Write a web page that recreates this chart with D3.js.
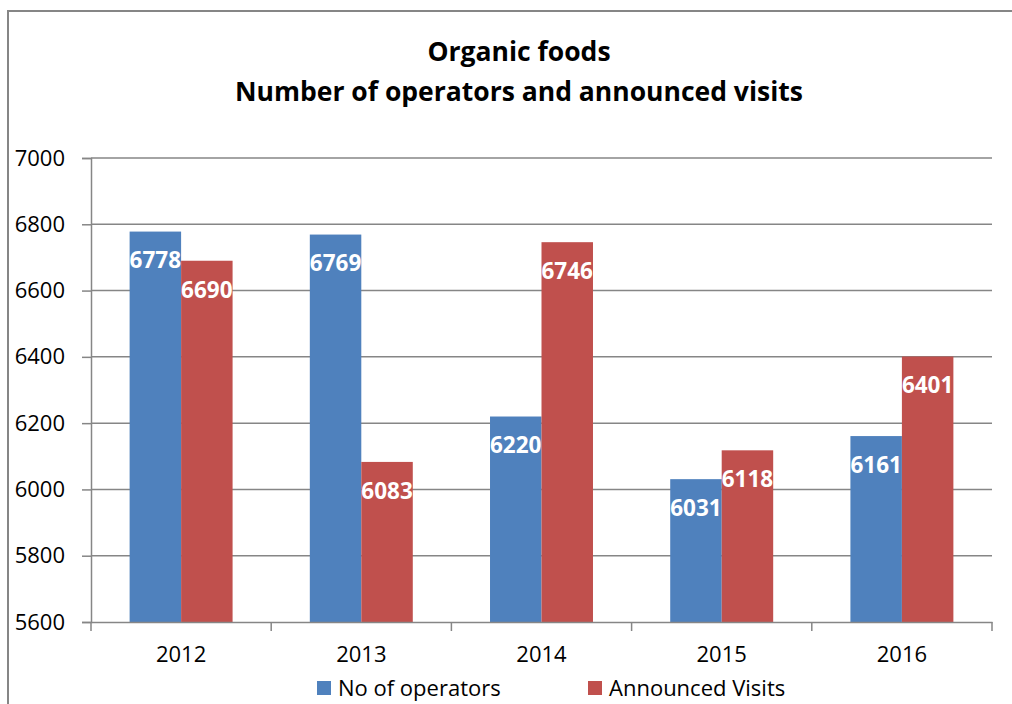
<!DOCTYPE html>
<html>
<head>
<meta charset="utf-8">
<script src="https://cdn.jsdelivr.net/npm/d3@7"></script>
<style>
  html, body { margin: 0; padding: 0; background: #fff; }
  svg { display: block; font-family: "Open Sans", sans-serif; }
</style>
</head>
<body>
<svg id="chart" width="1012" height="704"></svg>
<script>
// chart data
var years = ['2012', '2013', '2014', '2015', '2016'];
var seriesNames = ['No of operators', 'Announced Visits'];
var operators = [6778, 6769, 6220, 6031, 6161];
var visits = [6690, 6083, 6746, 6118, 6401];
var yTicks = [5600, 5800, 6000, 6200, 6400, 6600, 6800, 7000];
var titleLines = ['Organic foods', 'Number of operators and announced visits'];

var colors = ['#4f81bd', '#c0504d'];
var gridColor = '#868686';

var svg = d3.select('#chart');
var margins = { left: 91, right: 20, top: 158, bottom: 82 };
var W = 1012, H = 704;

// outer frame (runs off the right and bottom edges)
svg.append('rect')
  .attr('x', 8).attr('y', 11)
  .attr('width', 1100).attr('height', 800)
  .attr('fill', 'none')
  .attr('stroke', gridColor)
  .attr('stroke-width', 2);

// title
svg.append('g').selectAll('text').data(titleLines).enter()
  .append('text')
  .attr('x', 519)
  .attr('y', function(d, i) { return 61 + i * 40; })
  .attr('text-anchor', 'middle')
  .attr('font-size', 26.5)
  .attr('font-weight', 'bold')
  .attr('fill', '#000')
  .text(function(d) { return d; });

var xScale = d3.scaleBand()
  .domain(years)
  .range([margins.left, W - margins.right]);

var yScale = d3.scaleLinear()
  .domain([5600, 7000])
  .range([H - margins.bottom, margins.top]);

var bw = xScale.bandwidth();
var barW = bw / 3.5;
var x1 = d3.scaleBand()
  .domain(seriesNames)
  .range([0.75 * barW, 2.75 * barW]);

// gridlines
svg.append('g').selectAll('line').data(yTicks.slice(1)).enter()
  .append('line')
  .attr('x1', margins.left).attr('x2', W - margins.right)
  .attr('y1', function(d) { return yScale(d); })
  .attr('y2', function(d) { return yScale(d); })
  .attr('stroke', gridColor)
  .attr('stroke-width', 1.5);

// bars
var rows = years.map(function(y, i) {
  return { year: y, vals: [operators[i], visits[i]] };
});

var groups = svg.append('g').selectAll('g').data(rows).enter()
  .append('g')
  .attr('transform', function(d) { return 'translate(' + xScale(d.year) + ',0)'; });

var cells = groups.selectAll('g').data(function(d) {
  return d.vals.map(function(v, j) { return { name: seriesNames[j], val: v, j: j }; });
}).enter().append('g');

cells.append('rect')
  .attr('x', function(d) { return x1(d.name); })
  .attr('width', x1.bandwidth())
  .attr('y', function(d) { return yScale(d.val); })
  .attr('height', function(d) { return yScale(5600) - yScale(d.val); })
  .attr('fill', function(d) { return colors[d.j]; });

cells.append('text')
  .attr('x', function(d) { return x1(d.name) + x1.bandwidth() / 2; })
  .attr('y', function(d) { return yScale(d.val) + 29; })
  .attr('dy', '0.35em')
  .attr('text-anchor', 'middle')
  .attr('font-size', 22.5)
  .attr('font-weight', 'bold')
  .attr('fill', '#fff')
  .text(function(d) { return d.val; });

// y axis
var yAxis = svg.append('g')
  .attr('transform', 'translate(' + margins.left + ',0)')
  .call(d3.axisLeft(yScale).tickValues(yTicks).tickSize(9).tickPadding(17).tickFormat(d3.format('d')));
yAxis.selectAll('path, line').attr('stroke', gridColor).attr('stroke-width', 1.5);
yAxis.selectAll('text').attr('font-size', 22).attr('fill', '#000').attr('font-family', '"Open Sans", sans-serif');

// x axis
var xAxis = svg.append('g')
  .attr('transform', 'translate(0,' + yScale(5600) + ')')
  .call(d3.axisBottom(xScale).tickSize(0).tickPadding(24));
xAxis.select('path').attr('stroke', gridColor).attr('stroke-width', 1.5);
xAxis.selectAll('text').attr('font-size', 22).attr('fill', '#000').attr('font-family', '"Open Sans", sans-serif');

// category boundary ticks
var bounds = years.map(function(y) { return xScale(y); }).concat([xScale(years[years.length - 1]) + bw]);
svg.append('g').selectAll('line').data(bounds).enter()
  .append('line')
  .attr('x1', function(d) { return d; }).attr('x2', function(d) { return d; })
  .attr('y1', yScale(5600)).attr('y2', yScale(5600) + 9)
  .attr('stroke', gridColor)
  .attr('stroke-width', 1.5);

// legend
var legendX = [317, 588];
var legend = svg.append('g').selectAll('g').data(seriesNames).enter()
  .append('g')
  .attr('transform', function(d, i) { return 'translate(' + legendX[i] + ',688)'; });
legend.append('rect')
  .attr('x', 0).attr('y', -7)
  .attr('width', 14).attr('height', 14)
  .attr('fill', function(d, i) { return colors[i]; });
legend.append('text')
  .attr('x', 21).attr('y', 0)
  .attr('dy', '0.35em')
  .attr('font-size', 22)
  .attr('fill', '#000')
  .text(function(d) { return d; });
</script>
</body>
</html>
